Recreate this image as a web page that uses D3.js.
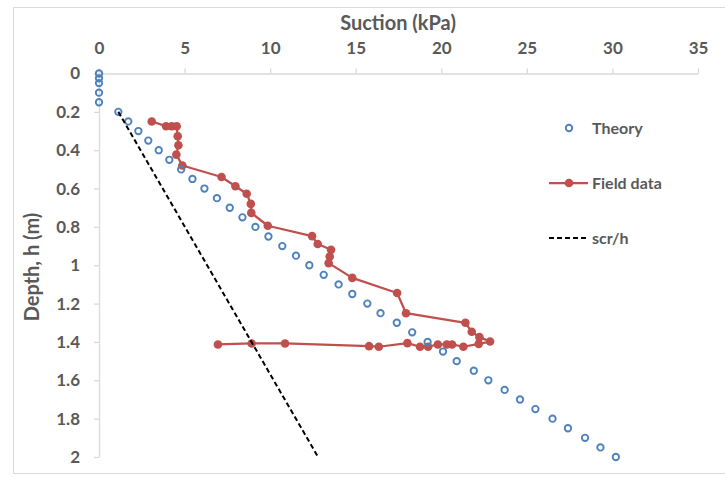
<!DOCTYPE html>
<html>
<head>
<meta charset="utf-8">
<script src="https://cdn.jsdelivr.net/npm/d3@7"></script>
<style>
  html, body { margin: 0; padding: 0; background: #fff; }
  svg { display: block; }
  text { font-family: Lato, "Open Sans", sans-serif; font-weight: bold; fill: #595959; }
</style>
</head>
<body>
<svg id="chart" width="725" height="477"></svg>
<script>
// ---- Data ----
const xTicks = [0, 5, 10, 15, 20, 25, 30, 35];
const yTicks = [0, 0.2, 0.4, 0.6, 0.8, 1, 1.2, 1.4, 1.6, 1.8, 2];

const theoryDepth = [0, 0.025, 0.05, 0.1, 0.15, 0.2, 0.25, 0.3, 0.35, 0.4, 0.45, 0.5, 0.55, 0.6, 0.65, 0.7, 0.75, 0.8, 0.85, 0.9, 0.95, 1.0, 1.05, 1.1, 1.15, 1.2, 1.25, 1.3, 1.35, 1.4, 1.45, 1.5, 1.55, 1.6, 1.65, 1.7, 1.75, 1.8, 1.85, 1.9, 1.95, 2.0];
const theorySuction = [0, 0, 0, 0, 0, 1.13, 1.71, 2.30, 2.88, 3.49, 4.11, 4.80, 5.46, 6.16, 6.89, 7.64, 8.38, 9.14, 9.90, 10.71, 11.51, 12.29, 13.13, 14.0, 14.80, 15.68, 16.45, 17.4, 18.3, 19.2, 20.1, 20.9, 21.9, 22.75, 23.7, 24.6, 25.5, 26.5, 27.4, 28.4, 29.3, 30.2];

const fieldDepth = [0.25, 0.275, 0.275, 0.275, 0.327, 0.374, 0.423, 0.48, 0.54, 0.588, 0.627, 0.68, 0.727, 0.794, 0.848, 0.889, 0.919, 0.954, 0.989, 1.066, 1.145, 1.25, 1.30, 1.347, 1.375, 1.398, 1.41, 1.425, 1.413, 1.413, 1.413, 1.425, 1.425, 1.406, 1.425, 1.422, 1.408, 1.408, 1.413];
const fieldSuction = [3.08, 3.92, 4.25, 4.54, 4.60, 4.64, 4.52, 4.87, 7.16, 7.97, 8.63, 8.87, 8.90, 9.86, 12.45, 12.78, 13.56, 13.48, 13.42, 14.80, 17.42, 17.94, 21.41, 21.78, 22.23, 22.85, 22.19, 21.29, 20.63, 20.32, 19.80, 19.23, 18.76, 18.02, 16.35, 15.78, 10.87, 8.92, 6.95];

const scrDepth = [0.2, 2.0];
const scrSuction = [1.13, 12.8];

const legendLabels = ["Theory", "Field data", "scr/h"];

// ---- Chart ----
const svg = d3.select("#chart");
const x = d3.scaleLinear().domain([0, 35]).range([99, 698]);
const y = d3.scaleLinear().domain([0, 2]).range([73.5, 457]);

const blue = "#4F81BD", red = "#C0504D", axisCol = "#D9D9D9";

// outer border
svg.append("rect").attr("x", 13.5).attr("y", 7.5).attr("width", 740).attr("height", 466)
  .attr("fill", "none").attr("stroke", axisCol).attr("stroke-width", 1);

// axes
const xAxis = svg.append("g").attr("transform", `translate(0,${y(0)})`)
  .call(d3.axisTop(x).tickValues(xTicks).tickSize(5).tickSizeOuter(0).tickPadding(15));
const yAxis = svg.append("g").attr("transform", `translate(${x(0)},0)`)
  .call(d3.axisLeft(y).tickValues(yTicks).tickSize(5).tickSizeOuter(0).tickPadding(14).tickFormat(d3.format("~g")));
[xAxis, yAxis].forEach(g => {
  g.select(".domain").attr("stroke", axisCol).attr("stroke-width", 1.3);
  g.selectAll(".tick line").attr("stroke", axisCol).attr("stroke-width", 1.3);
  g.selectAll(".tick text").attr("font-size", 17).attr("fill", "#595959")
    .attr("font-family", "Lato, sans-serif").attr("font-weight", "bold");
});

// titles
svg.append("text").attr("x", 398).attr("y", 30).attr("text-anchor", "middle")
  .attr("font-size", 20).text("Suction (kPa)");
svg.append("text").attr("transform", `translate(39,267) rotate(-90)`).attr("text-anchor", "middle")
  .attr("font-size", 20).text("Depth, h (m)");

// field data
const field = fieldDepth.map((d, i) => [fieldSuction[i], d]);
const line = d3.line().x(d => x(d[0])).y(d => y(d[1]));
svg.append("path").datum(field).attr("d", line)
  .attr("fill", "none").attr("stroke", red).attr("stroke-width", 2.25).attr("stroke-linejoin", "round");
svg.append("g").selectAll("circle").data(field).join("circle")
  .attr("cx", d => x(d[0])).attr("cy", d => y(d[1])).attr("r", 4.3).attr("fill", red);

// theory
const theory = theoryDepth.map((d, i) => [theorySuction[i], d]);
svg.append("g").selectAll("circle").data(theory).join("circle")
  .attr("cx", d => x(d[0])).attr("cy", d => y(d[1])).attr("r", 3.2)
  .attr("fill", "none").attr("stroke", blue).attr("stroke-width", 1.9);

// scr/h
const scr = scrDepth.map((d, i) => [scrSuction[i], d]);
svg.append("path").datum(scr).attr("d", line)
  .attr("fill", "none").attr("stroke", "#000").attr("stroke-width", 2).attr("stroke-dasharray", "5,3");

// legend
const lg = svg.append("g");
lg.append("circle").attr("cx", 569).attr("cy", 128).attr("r", 3.2)
  .attr("fill", "none").attr("stroke", blue).attr("stroke-width", 1.9);
lg.append("line").attr("x1", 549).attr("x2", 588).attr("y1", 183).attr("y2", 183)
  .attr("stroke", red).attr("stroke-width", 2.25);
lg.append("circle").attr("cx", 569).attr("cy", 183).attr("r", 4.3).attr("fill", red);
lg.append("line").attr("x1", 549).attr("x2", 588).attr("y1", 238).attr("y2", 238)
  .attr("stroke", "#000").attr("stroke-width", 2).attr("stroke-dasharray", "5,3");
[128, 183, 238].forEach((yy, i) => {
  lg.append("text").attr("x", 592).attr("y", yy).attr("dy", "0.35em")
    .attr("font-size", 16).text(legendLabels[i]);
});
</script>
</body>
</html>
